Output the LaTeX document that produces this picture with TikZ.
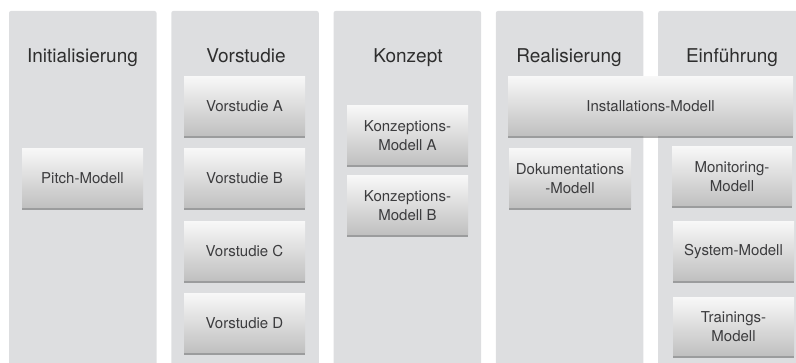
\documentclass[tikz,border=0pt]{standalone}
\usepackage{fontspec}
\setmainfont{TeX Gyre Heros}
\usetikzlibrary{shadows}
\definecolor{panelgray}{RGB}{221,222,224}
\definecolor{textgray}{RGB}{60,60,62}

\begin{document}
\begin{tikzpicture}[x=1pt,y=1pt,yscale=-1,xscale=1,
  phase/.style={fill=panelgray, rounded corners=2pt},
  head/.style={anchor=base, text=black!82, font=\fontsize{19}{22}\selectfont},
  modell/.style={minimum width=121pt, minimum height=59pt, inner sep=2pt, align=center,
    text=textgray, font=\fontsize{15}{19}\selectfont,
    top color=white!97!black, middle color=black!7, bottom color=black!25,
    drop shadow={shadow xshift=0pt, shadow yshift=-1.6pt, opacity=0.45, fill=black!70}}]
\useasboundingbox (0,0) rectangle (796,363);

% phases
\foreach \i in {0,...,4}
  \fill[phase] ({9+162.3*\i},11) rectangle ++(147.5,370);

% phase titles
\node[head] (init) at (82.5,63) {Initialisierung};
\node[head] (vor) at (246,63) {Vorstudie};
\node[head] (konz) at (408,63) {Konzept};
\node[head] (real) at (569,63) {Realisierung};
\node[head] (einf) at (732,63) {Einführung};

% Initialisierung
\node[modell] (pitch) at (82.5,178.5) {Pitch-Modell};

% Vorstudie
\node[modell] (vorA) at (244.5,106.5) {Vorstudie A};
\node[modell] (vorB) at (244.5,178.5) {Vorstudie B};
\node[modell] (vorC) at (244.5,251.5) {Vorstudie C};
\node[modell] (vorD) at (244.5,323.5) {Vorstudie D};

% Konzept
\node[modell] (konzA) at (407.5,135.5) {Konzeptions-\\Modell A};
\node[modell] (konzB) at (407.5,205.5) {Konzeptions-\\Modell B};

% Realisierung / Einfuehrung
\node[modell, minimum width=285pt] (install) at (650.5,106.5) {Installations-Modell};
\node[modell, minimum width=122pt] (doku) at (570,178.5) {Dokumentations\\-Modell};
\node[modell, minimum width=120pt] (monitor) at (732,176.5) {Monitoring-\\Modell};
\node[modell] (system) at (733.5,251.5) {System-Modell};
\node[modell, minimum height=58pt] (training) at (733.5,327) {Trainings-\\Modell};

\end{tikzpicture}
\end{document}
